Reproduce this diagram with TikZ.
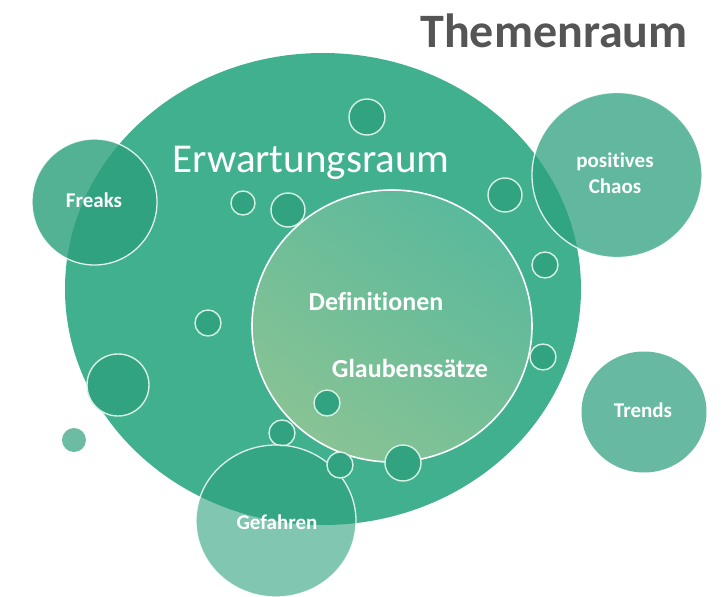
\documentclass[tikz,border=0pt]{standalone}
\usepackage{fontspec}
\setmainfont{Carlito}[Ligatures={NoCommon}]
\usetikzlibrary{shadings}
\definecolor{bigc}{RGB}{64,176,143}
\definecolor{bubc}{RGB}{45,160,125}
\definecolor{smallc}{RGB}{50,163,128}
\definecolor{innertop}{RGB}{90,185,156}
\definecolor{innerbot}{RGB}{136,195,148}
\definecolor{titlec}{RGB}{85,85,85}
\definecolor{ringc}{RGB}{215,240,228}
\tikzset{
  bubble/.style={fill=bubc, fill opacity=#1, draw=white, draw opacity=0.85, line width=1.3pt},
  ring/.style={fill=smallc, draw=ringc, line width=1.4pt},
  lbl/.style={text=white, font=\bfseries\fontsize{21}{24}\selectfont, align=center, inner sep=0pt},
}
\begin{document}
\begin{tikzpicture}[x=1pt,y=-1pt]
\useasboundingbox (0,0) rectangle (724,597);
% main space
\fill[bigc] (323,289) ellipse [x radius=258, y radius=236];
% inner circle
\shade[shading=axis, top color=innertop, bottom color=innerbot, shading angle=-35]
  (392,326) ellipse [x radius=140, y radius=136];
\draw[white, line width=1.6pt] (392,326) ellipse [x radius=140, y radius=136];
% small rings
\foreach \x/\y/\r in {243/203/12, 288/210/17, 505/195/17, 545/265/13, 208/323/13,
  543/357/13, 327/403/13, 282/433/13, 403/463/18, 367/117/18, 118/385/31}
  \draw[ring] (\x,\y) circle [radius=\r];
% outer bubbles
\filldraw[bubble=0.82] (94.5,202) ellipse [x radius=62.5, y radius=63];
\filldraw[bubble=0.75] (617,175) ellipse [x radius=85, y radius=82.5];
\fill[bubc, fill opacity=0.72] (644,412) ellipse [x radius=62.5, y radius=60.5];
\filldraw[bubble=0.6] (276,521) ellipse [x radius=80, y radius=76];
\draw[ring] (340,465) circle [radius=13];
\fill[bubc, fill opacity=0.7] (74,440) circle [radius=12];
% texts
\node[text=titlec, font=\bfseries\fontsize{48}{51}\selectfont, inner sep=0pt] (title) at (554,31) {Themenraum};
\node[text=white, font=\fontsize{41}{44}\selectfont, inner sep=0pt] (erw) at (311,163) {Erwartungsraum};
\node[lbl, font=\bfseries\fontsize{26}{30}\selectfont] (def) at (376,301) {Definitionen};
\node[lbl, font=\bfseries\fontsize{26}{30}\selectfont] (gla) at (410,368) {Glaubenssätze};
\node[lbl] (freaks) at (94,200) {Freaks};
\node[lbl] (chaos) at (615,173) {positives\\[2pt]Chaos};
\node[lbl] (trends) at (643,410) {Trends};
\node[lbl] (gef) at (277,522) {Gefahren};
\end{tikzpicture}
\end{document}
